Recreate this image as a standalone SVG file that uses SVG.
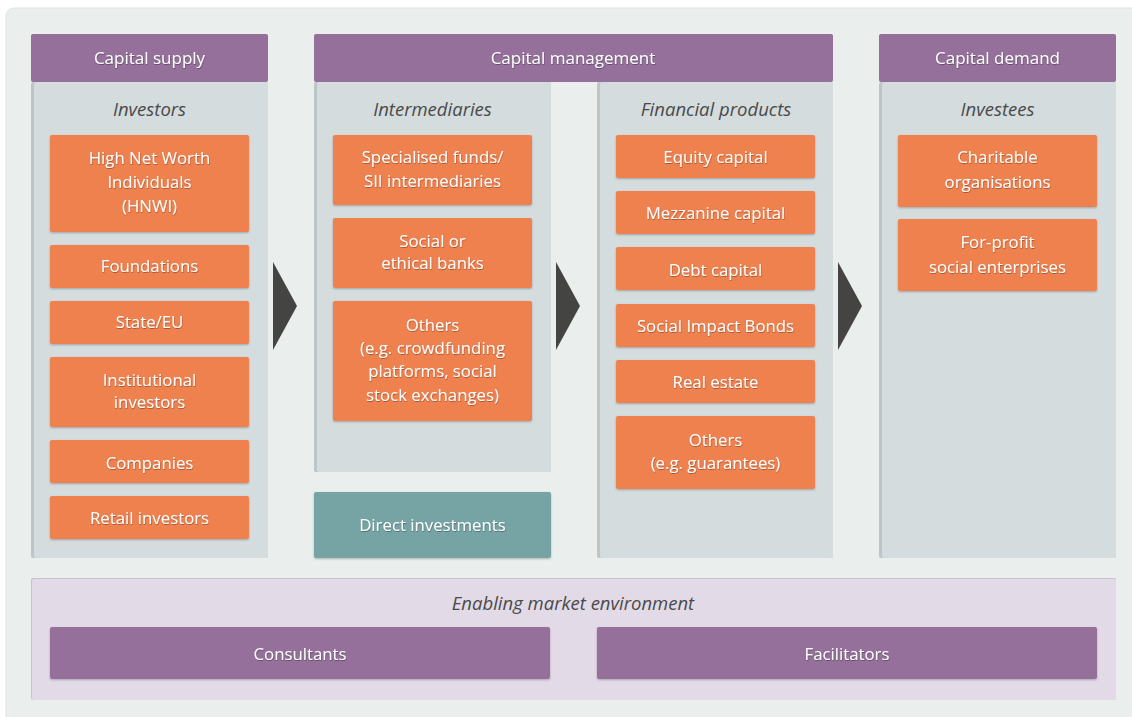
<svg xmlns="http://www.w3.org/2000/svg" width="1132" height="717" viewBox="0 0 1132 717">
<defs>
<style>
.hdr{fill:#94709a}
.body{fill:#d4dcdd}
.edge{fill:#bcc6c7}
.box{fill:#ef814f;filter:url(#sh)}
.teal{fill:#76a4a5;filter:url(#sh)}
.pbox{fill:#94709a;filter:url(#sh)}
.t{font-family:"Open Sans","Liberation Sans",sans-serif;font-size:16.8px;fill:#ffffff;text-anchor:middle;filter:url(#ts)}
.h{font-family:"Open Sans","Liberation Sans",sans-serif;font-size:17px;fill:#ffffff;text-anchor:middle;filter:url(#ts)}
.i{font-family:"Open Sans","Liberation Sans",sans-serif;font-size:18.5px;font-style:italic;fill:#4a4a4a;text-anchor:middle}
.arr{fill:#444443}
</style>
<filter id="sh" x="-5%" y="-10%" width="110%" height="125%">
<feDropShadow dx="0" dy="1" stdDeviation="0.8" flood-color="#000" flood-opacity="0.25"/>
</filter>
<filter id="ts" x="-5%" y="-20%" width="110%" height="150%">
<feDropShadow dx="0.5" dy="1" stdDeviation="0.6" flood-color="#000" flood-opacity="0.3"/>
</filter>
</defs>
<rect x="0" y="0" width="1132" height="717" fill="#ffffff"/>
<rect x="6" y="8" width="1140" height="720" rx="8" fill="#eaeeed" stroke="#dfe3e2" stroke-width="1"/>

<g id="capital-supply">
<rect class="edge" x="31" y="82" width="237" height="476" rx="2"/>
<rect class="body" x="34" y="82" width="234" height="476" rx="2"/>
<rect class="hdr" x="31" y="34" width="237" height="48" rx="2"/>
<text class="h" x="149.5" y="64">Capital supply</text>
<text class="i" x="149.5" y="116">Investors</text>
</g>
<g id="hnwi"><rect class="box" x="50" y="135" width="199" height="97" rx="2"/>
<text class="t" x="149.5" y="164">High Net Worth</text><text class="t" x="149.5" y="188">Individuals</text><text class="t" x="149.5" y="212">(HNWI)</text></g>
<g id="foundations"><rect class="box" x="50" y="245" width="199" height="43" rx="2"/><text class="t" x="149.5" y="272">Foundations</text></g>
<g id="state-eu"><rect class="box" x="50" y="301" width="199" height="43" rx="2"/><text class="t" x="149.5" y="328">State/EU</text></g>
<g id="institutional"><rect class="box" x="50" y="357" width="199" height="70" rx="2"/><text class="t" x="149.5" y="386">Institutional</text><text class="t" x="149.5" y="408">investors</text></g>
<g id="companies"><rect class="box" x="50" y="440" width="199" height="43" rx="2"/><text class="t" x="149.5" y="469">Companies</text></g>
<g id="retail"><rect class="box" x="50" y="496" width="199" height="43" rx="2"/><text class="t" x="149.5" y="524">Retail investors</text></g>

<g id="capital-management">
<rect class="hdr" x="314" y="34" width="519" height="48" rx="2"/>
<text class="h" x="573" y="64">Capital management</text>
</g>
<g id="intermediaries">
<rect class="edge" x="314" y="82" width="237" height="390" rx="2"/>
<rect class="body" x="317" y="82" width="234" height="390" rx="2"/>
<text class="i" x="432.5" y="116">Intermediaries</text>
</g>
<g id="specialised"><rect class="box" x="333" y="135" width="199" height="70" rx="2"/><text class="t" x="432.5" y="163">Specialised funds/</text><text class="t" x="432.5" y="187">SII intermediaries</text></g>
<g id="banks"><rect class="box" x="333" y="218" width="199" height="70" rx="2"/><text class="t" x="432.5" y="247">Social or</text><text class="t" x="432.5" y="269">ethical banks</text></g>
<g id="others-int"><rect class="box" x="333" y="301" width="199" height="120" rx="2"/>
<text class="t" x="432.5" y="331">Others</text><text class="t" x="432.5" y="354">(e.g. crowdfunding</text><text class="t" x="432.5" y="377">platforms, social</text><text class="t" x="432.5" y="401">stock exchanges)</text></g>
<g id="direct"><rect class="teal" x="314" y="492" width="237" height="66" rx="2"/><text class="t" x="432.5" y="531">Direct investments</text></g>

<g id="financial-products">
<rect class="edge" x="597" y="82" width="236" height="476" rx="2"/>
<rect class="body" x="600" y="82" width="233" height="476" rx="2"/>
<text class="i" x="716" y="116">Financial products</text>
</g>
<g id="equity"><rect class="box" x="616" y="135" width="199" height="43" rx="2"/><text class="t" x="715.5" y="163">Equity capital</text></g>
<g id="mezzanine"><rect class="box" x="616" y="191" width="199" height="43" rx="2"/><text class="t" x="715.5" y="219">Mezzanine capital</text></g>
<g id="debt"><rect class="box" x="616" y="247" width="199" height="43" rx="2"/><text class="t" x="715.5" y="276">Debt capital</text></g>
<g id="sib"><rect class="box" x="616" y="304" width="199" height="43" rx="2"/><text class="t" x="715.5" y="332">Social Impact Bonds</text></g>
<g id="real-estate"><rect class="box" x="616" y="360" width="199" height="43" rx="2"/><text class="t" x="715.5" y="388">Real estate</text></g>
<g id="others-fin"><rect class="box" x="616" y="416" width="199" height="73" rx="2"/><text class="t" x="715.5" y="446">Others</text><text class="t" x="715.5" y="469">(e.g. guarantees)</text></g>

<g id="capital-demand">
<rect class="edge" x="879" y="82" width="237" height="476" rx="2"/>
<rect class="body" x="882" y="82" width="234" height="476" rx="2"/>
<rect class="hdr" x="879" y="34" width="237" height="48" rx="2"/>
<text class="h" x="997.5" y="64">Capital demand</text>
<text class="i" x="997.5" y="116">Investees</text>
</g>
<g id="charitable"><rect class="box" x="898" y="135" width="199" height="72" rx="2"/><text class="t" x="997.5" y="163">Charitable</text><text class="t" x="997.5" y="188">organisations</text></g>
<g id="for-profit"><rect class="box" x="898" y="219" width="199" height="72" rx="2"/><text class="t" x="997.5" y="248">For-profit</text><text class="t" x="997.5" y="273">social enterprises</text></g>

<g id="connectors">
<polygon class="arr" points="273,262 297,306 273,350"/>
<polygon class="arr" points="556,262 580,306 556,350"/>
<polygon class="arr" points="838,262 862,306 838,350"/>
</g>

<g id="enabling">
<rect x="31" y="578" width="1085" height="122" rx="2" fill="#c9c2cc"/>
<rect x="32" y="579" width="1084" height="121" rx="2" fill="#e3dae8"/>
<text class="i" x="573" y="610">Enabling market environment</text>
</g>
<g id="consultants"><rect class="pbox" x="50" y="627" width="500" height="52" rx="2"/><text class="t" x="300" y="660">Consultants</text></g>
<g id="facilitators"><rect class="pbox" x="597" y="627" width="500" height="52" rx="2"/><text class="t" x="847" y="660">Facilitators</text></g>
</svg>
